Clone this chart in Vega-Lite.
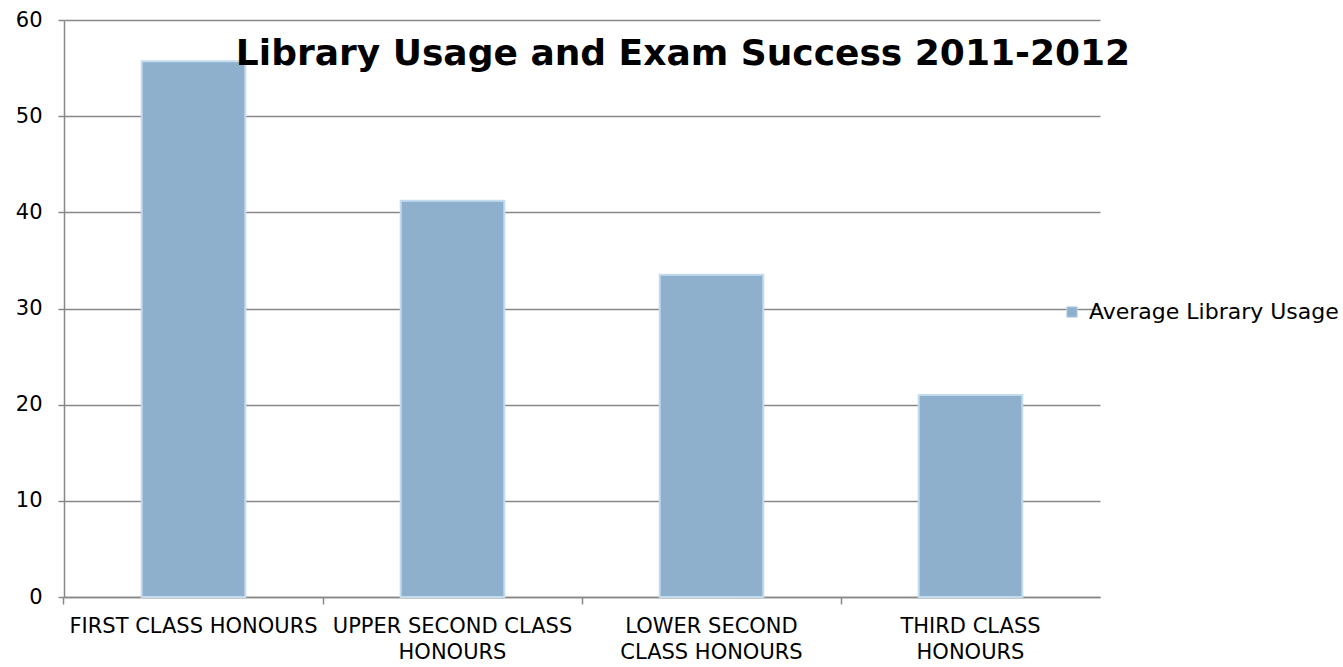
{
  "$schema": "https://vega.github.io/schema/vega-lite/v6.json",
  "autosize": "none",
  "width": 1036,
  "height": 577,
  "padding": {"left": 64, "top": 20, "right": 243, "bottom": 70},
  "background": "white",
  "title": {
    "text": "Library Usage and Exam Success 2011-2012",
    "font": "DejaVu Sans",
    "fontSize": 36,
    "fontWeight": "bold",
    "color": "#000000",
    "anchor": "middle",
    "baseline": "alphabetic",
    "dx": 101,
    "dy": 92,
    "offset": 0
  },
  "data": {
    "values": [
      {"grade": "FIRST CLASS HONOURS", "usage": 55.7, "series": "Average Library Usage"},
      {"grade": "UPPER SECOND CLASS HONOURS", "usage": 41.2, "series": "Average Library Usage"},
      {"grade": "LOWER SECOND CLASS HONOURS", "usage": 33.5, "series": "Average Library Usage"},
      {"grade": "THIRD CLASS HONOURS", "usage": 21.0, "series": "Average Library Usage"}
    ]
  },
  "mark": {"type": "bar", "stroke": "#c3dbef", "strokeWidth": 2},
  "encoding": {
    "x": {
      "field": "grade",
      "type": "nominal",
      "sort": null,
      "scale": {"paddingInner": 0.6, "paddingOuter": 0.3},
      "axis": {
        "title": null,
        "labelAngle": 0,
        "labelFont": "DejaVu Sans",
        "labelFontSize": 21,
        "labelColor": "#000000",
        "labelPadding": 11,
        "labelLimit": 320,
        "labelExpr": "datum.label == 'UPPER SECOND CLASS HONOURS' ? ['UPPER SECOND CLASS', 'HONOURS'] : datum.label == 'LOWER SECOND CLASS HONOURS' ? ['LOWER SECOND', 'CLASS HONOURS'] : datum.label == 'THIRD CLASS HONOURS' ? ['THIRD CLASS', 'HONOURS'] : datum.label",
        "labelLineHeight": 26,
        "bandPosition": -0.75,
        "tickSize": 7,
        "tickColor": "#888888",
        "tickWidth": 1.5,
        "domainColor": "#888888",
        "domainWidth": 1.5,
        "grid": false
      }
    },
    "y": {
      "field": "usage",
      "type": "quantitative",
      "scale": {"domain": [0, 60], "nice": false},
      "axis": {
        "title": null,
        "values": [0, 10, 20, 30, 40, 50, 60],
        "labelFont": "DejaVu Sans",
        "labelFontSize": 21,
        "labelColor": "#000000",
        "labelPadding": 16,
        "tickSize": 6,
        "tickColor": "#888888",
        "tickWidth": 1.5,
        "domainColor": "#888888",
        "domainWidth": 1.5,
        "gridColor": "#888888",
        "gridWidth": 1.5,
        "gridOpacity": 1
      }
    },
    "color": {
      "field": "series",
      "type": "nominal",
      "scale": {"range": ["#8fb0cc"]},
      "legend": {
        "title": null,
        "orient": "none",
        "legendX": 997,
        "legendY": 281,
        "symbolType": "square",
        "symbolSize": 110,
        "symbolStrokeColor": "#c3dbef",
        "symbolStrokeWidth": 1,
        "labelFont": "DejaVu Sans",
        "labelFontSize": 22,
        "labelColor": "#000000",
        "labelLimit": 300,
        "labelOffset": 6
      }
    }
  },
  "config": {"view": {"stroke": null}}
}
